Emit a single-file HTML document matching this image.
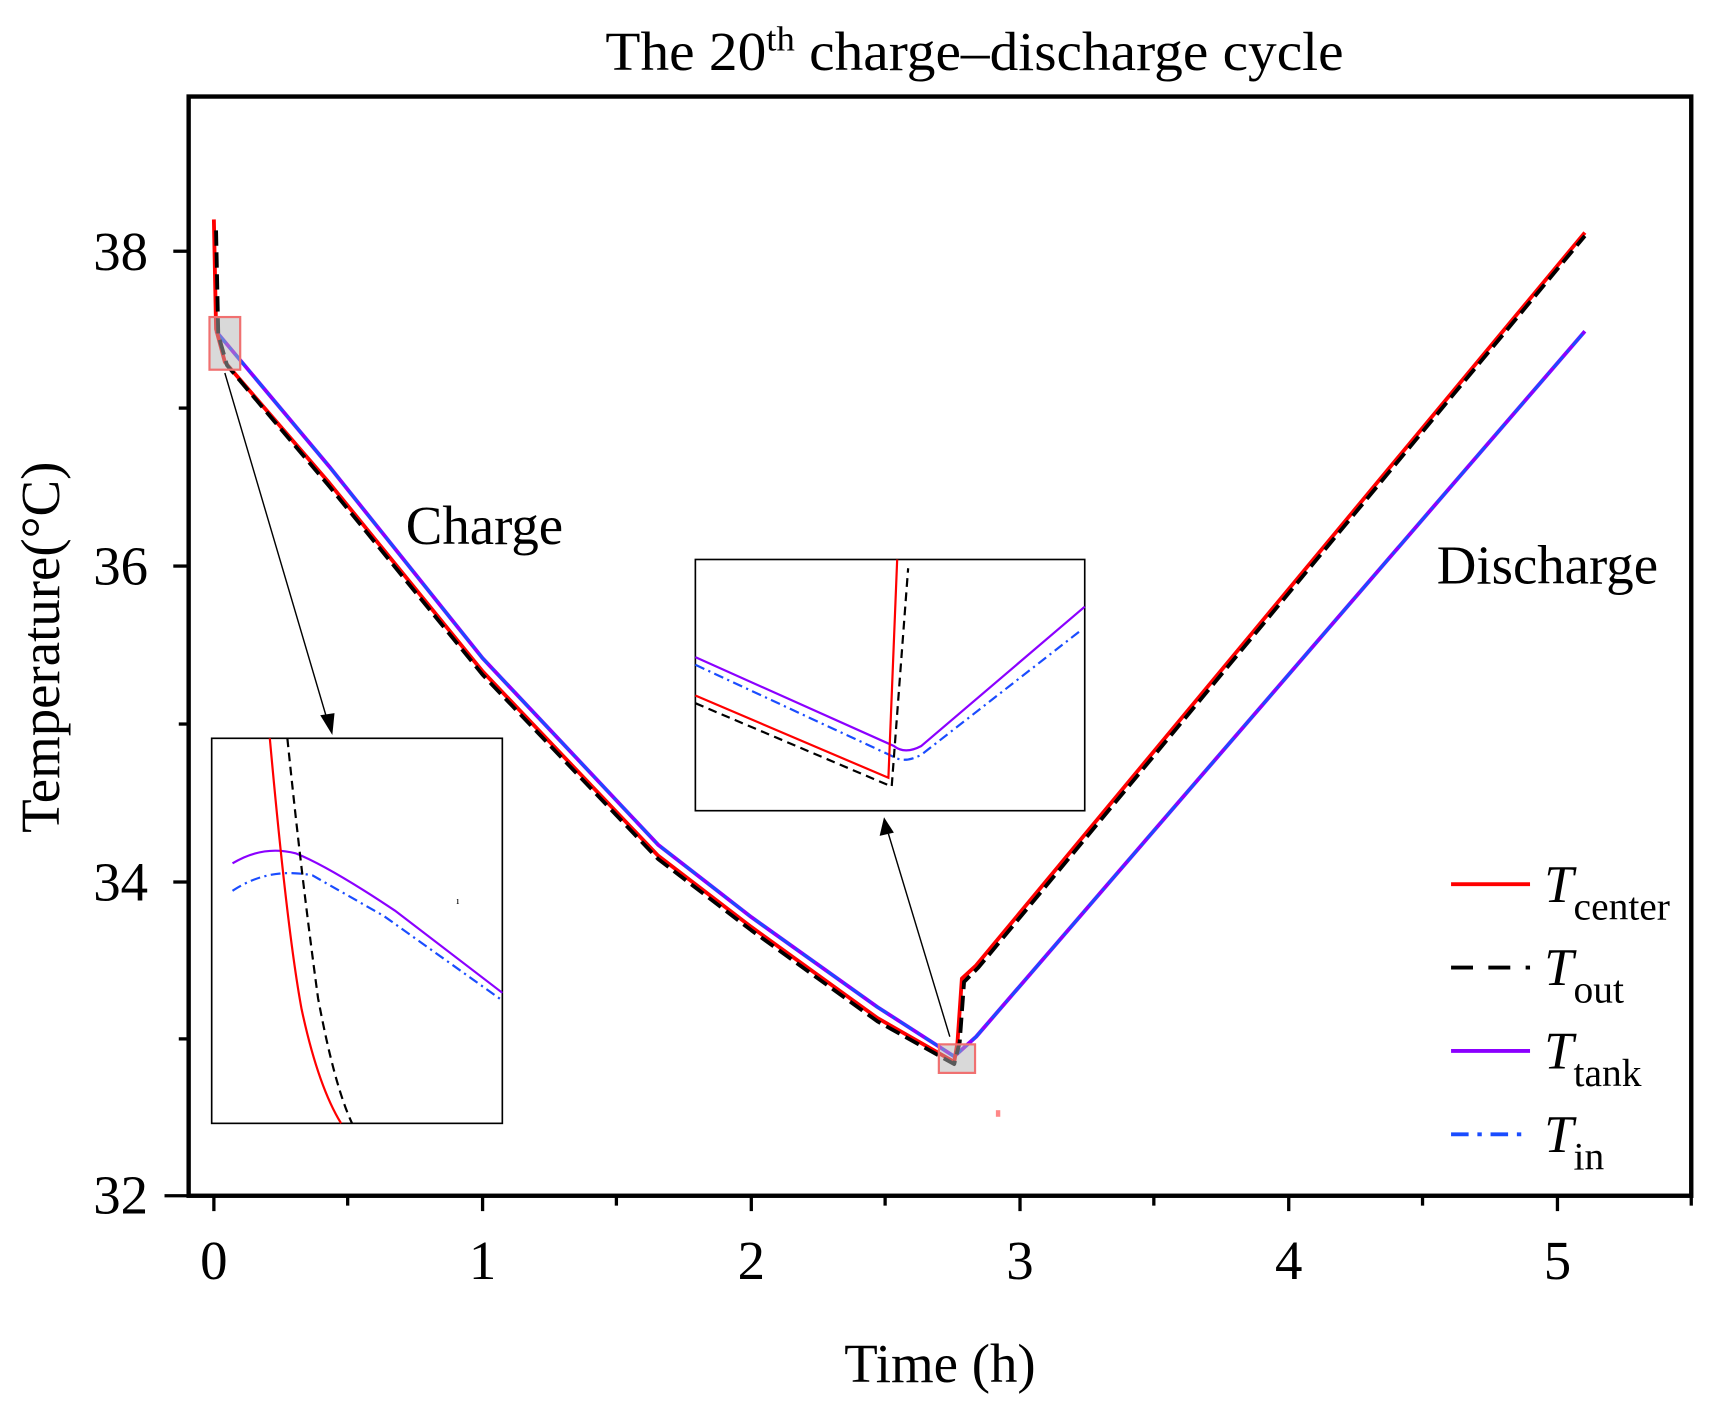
<!DOCTYPE html>
<html><head><meta charset="utf-8"><style>html,body{margin:0;padding:0;background:#fff}svg{display:block}</style></head>
<body>
<svg width="1711" height="1402" viewBox="0 0 1560 1278" preserveAspectRatio="none" xmlns="http://www.w3.org/2000/svg" font-family="Liberation Serif, serif">
<rect width="1560" height="1278" fill="#fff"/>
<text x="552" y="64" font-size="50" textLength="673" lengthAdjust="spacingAndGlyphs">The 20<tspan font-size="32" dy="-18">th</tspan><tspan dy="18"> charge–discharge cycle</tspan></text>
<rect x="172" y="88" width="1370" height="1002" fill="none" stroke="#000" stroke-width="4"/>
<g stroke="#000" stroke-width="3">
<line x1="172" y1="229" x2="158" y2="229"/><line x1="172" y1="516" x2="158" y2="516"/><line x1="172" y1="804" x2="158" y2="804"/><line x1="172" y1="1090" x2="150" y2="1090"/>
<line x1="172" y1="372" x2="163" y2="372"/><line x1="172" y1="660" x2="163" y2="660"/><line x1="172" y1="947" x2="163" y2="947"/>
<line x1="195" y1="1090" x2="195" y2="1104"/><line x1="440" y1="1090" x2="440" y2="1104"/><line x1="685" y1="1090" x2="685" y2="1104"/><line x1="930" y1="1090" x2="930" y2="1104"/><line x1="1175" y1="1090" x2="1175" y2="1104"/><line x1="1420" y1="1090" x2="1420" y2="1104"/>
<line x1="317" y1="1090" x2="317" y2="1099"/><line x1="562" y1="1090" x2="562" y2="1099"/><line x1="807" y1="1090" x2="807" y2="1099"/><line x1="1052" y1="1090" x2="1052" y2="1099"/><line x1="1297" y1="1090" x2="1297" y2="1099"/><line x1="1542" y1="1090" x2="1542" y2="1099"/>
</g>
<g font-size="50" text-anchor="end">
<text x="135" y="246">38</text><text x="135" y="533">36</text><text x="135" y="821">34</text><text x="135" y="1106">32</text>
</g>
<g font-size="50" text-anchor="middle">
<text x="195" y="1166">0</text><text x="440" y="1166">1</text><text x="685" y="1166">2</text><text x="930" y="1166">3</text><text x="1175" y="1166">4</text><text x="1420" y="1166">5</text>
<text x="857" y="1260">Time (h)</text>
<text transform="translate(54,590) rotate(-90)">Temperature(°C)</text>
</g>
<text x="370" y="496" font-size="50">Charge</text>
<text x="1310" y="532" font-size="50">Discharge</text>
<!-- main curves -->
<g fill="none" stroke-width="3.5" stroke-linejoin="round">
<path d="M197,302 L300,425 L440,600 L600,770 L685,836 L800,918 L870,963 L890,945 L1445,302" stroke="#8b00ff"/>
<path d="M197,302 L300,425 L440,600 L600,770 L685,836 L800,918 L870,963 L890,945 L1445,302" stroke="#1a4cff" stroke-dasharray="14 5 3 5" stroke-width="2.5"/>
<path d="M195,200 L197,300 L205,330 L300,440 L440,612 L600,780 L685,845 L800,928 L870,968 L873,950 L877,892 L890,880 L1445,212" stroke="#ff0000"/>
<path d="M197,210 L199,305 L207,333 L300,443 L440,615 L600,783 L685,848 L800,931 L870,970 L875,950 L879,895 L892,882 L1445,215" stroke="#000" stroke-dasharray="14 6"/>
</g>
<rect x="191" y="289" width="28" height="48" fill="rgba(180,180,180,0.5)" stroke="#f07070" stroke-width="2"/>
<rect x="856" y="952" width="33" height="26" fill="rgba(180,180,180,0.5)" stroke="#f07070" stroke-width="2"/>
<rect x="908" y="1012" width="4" height="6" fill="#f88"/>
<g stroke="#000" stroke-width="1.3">
<line x1="205" y1="340" x2="298" y2="655"/><line x1="866" y1="945" x2="810" y2="760"/>
</g>
<polygon points="303,670 292,652 305,650" fill="#000"/>
<polygon points="806,745 802,762 815,759" fill="#000"/>
<!-- left inset -->
<rect x="193" y="673" width="265" height="351" fill="#fff" stroke="#000" stroke-width="1.5"/>
<g fill="none" stroke-width="2">
<path d="M212,787 Q240,770 270,778 Q300,790 360,830 L458,905" stroke="#8b00ff"/>
<path d="M212,812 Q245,790 285,798 L350,835 L458,912" stroke="#1a4cff" stroke-dasharray="9 4 2 4"/>
<path d="M246,673 Q262,850 275,920 Q290,990 311,1024" stroke="#ff0000"/>
<path d="M262,673 Q275,800 290,910 Q305,990 321,1024" stroke="#000" stroke-dasharray="8 5"/>
</g>
<text x="416" y="824" font-size="10">ı</text>
<!-- right inset -->
<rect x="634" y="510" width="355" height="229" fill="#fff" stroke="#000" stroke-width="1.5"/>
<g fill="none" stroke-width="2">
<path d="M634,599 L815,680 Q825,688 840,680 L989,553" stroke="#8b00ff"/>
<path d="M634,606 L815,690 Q825,696 840,688 L985,575" stroke="#1a4cff" stroke-dasharray="9 4 2 4"/>
<path d="M634,634 L810,709 L818,510" stroke="#ff0000"/>
<path d="M634,641 L813,717 L828,518" stroke="#000" stroke-dasharray="8 5"/>
</g>
<!-- legend -->
<g stroke-width="3.5">
<line x1="1323" y1="806" x2="1395" y2="806" stroke="#ff0000"/>
<line x1="1323" y1="882" x2="1395" y2="882" stroke="#000" stroke-dasharray="20 14"/>
<line x1="1323" y1="958" x2="1395" y2="958" stroke="#8b00ff"/>
<line x1="1323" y1="1034" x2="1395" y2="1034" stroke="#1a4cff" stroke-dasharray="16 8 4 8"/>
</g>
<g font-size="48">
<text x="1408" y="822"><tspan font-style="italic">T</tspan><tspan font-size="36" dy="16">center</tspan></text>
<text x="1408" y="898"><tspan font-style="italic">T</tspan><tspan font-size="36" dy="16">out</tspan></text>
<text x="1408" y="974"><tspan font-style="italic">T</tspan><tspan font-size="36" dy="16">tank</tspan></text>
<text x="1408" y="1050"><tspan font-style="italic">T</tspan><tspan font-size="36" dy="16">in</tspan></text>
</g>
</svg>
</body></html>
